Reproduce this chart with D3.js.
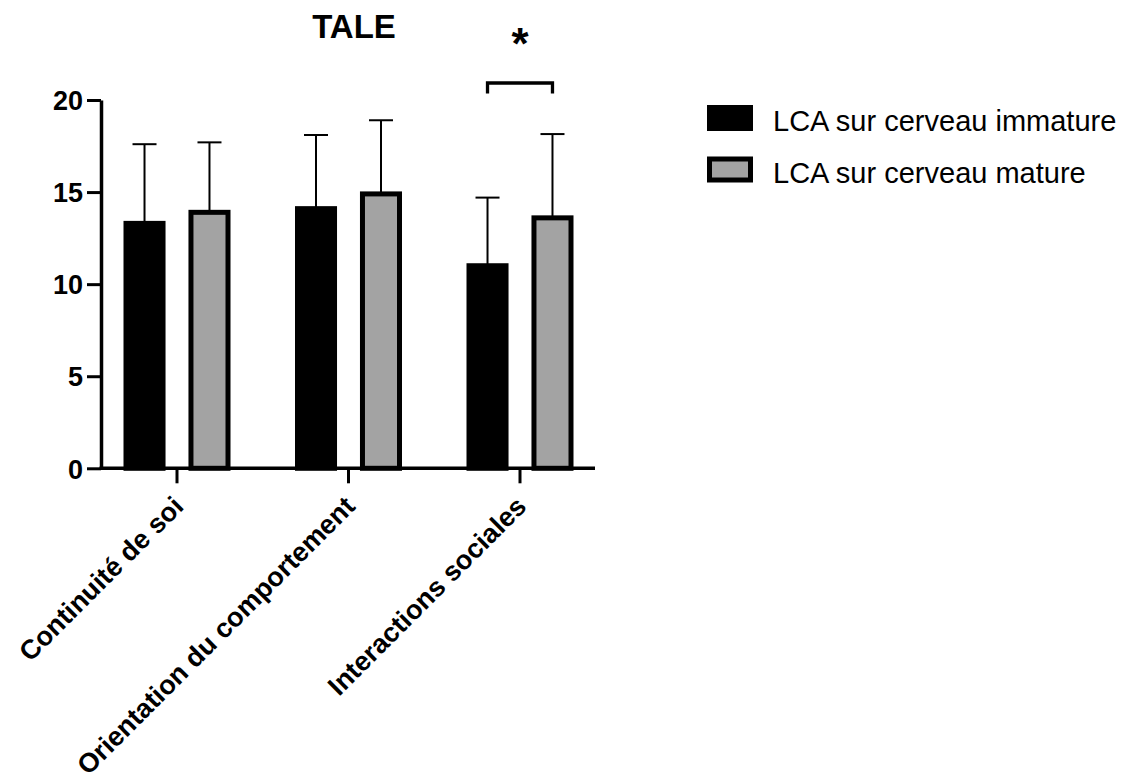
<!DOCTYPE html>
<html>
<head>
<meta charset="utf-8">
<script src="https://cdn.jsdelivr.net/npm/d3@7"></script>
<style>
  html, body { margin: 0; padding: 0; background: #fff; }
  svg { display: block; font-family: "Liberation Sans", Arial, Helvetica, sans-serif; }
</style>
</head>
<body>
<svg id="chart" width="1128" height="782"></svg>
<script>
// ---- data ----
const categories = ["Continuité de soi", "Orientation du comportement", "Interactions sociales"];
const seriesNames = ["LCA sur cerveau immature", "LCA sur cerveau mature"];
const immatureMeans = [13.3, 14.1, 11.0];
const matureMeans   = [13.9, 14.9, 13.6];
const immatureUpper = [17.6, 18.1, 14.7];   // mean + SD
const matureUpper   = [17.7, 18.9, 18.15];
const yTicks = [0, 5, 10, 15, 20];
const title = "TALE";
const significance = [{ category: "Interactions sociales", label: "*" }];

// ---- layout ----
const svg = d3.select("#chart");
const y = d3.scaleLinear().domain([0, 20]).range([468.3, 100]);
const x0 = d3.scaleBand().domain(categories).range([91.25, 605.75]).paddingInner(0).paddingOuter(0);
const x1 = d3.scaleBand().domain(seriesNames).range([-51, 51]).paddingInner(0.43);
const colors = { [seriesNames[0]]: "#000000", [seriesNames[1]]: "#a3a3a3" };

const rows = [];
categories.forEach((c, i) => {
  rows.push({ cat: c, s: seriesNames[0], v: immatureMeans[i], up: immatureUpper[i] });
  rows.push({ cat: c, s: seriesNames[1], v: matureMeans[i], up: matureUpper[i] });
});
const cx = d => x0(d.cat) + x0.bandwidth() / 2 + x1(d.s) + x1.bandwidth() / 2;

// error bars (drawn first, behind bars)
const eb = svg.append("g");
eb.selectAll("line.v").data(rows).join("line")
  .attr("x1", cx).attr("x2", cx)
  .attr("y1", d => y(d.v)).attr("y2", d => y(d.up))
  .attr("stroke", "#000").attr("stroke-width", 2);
eb.selectAll("line.c").data(rows).join("line")
  .attr("x1", d => cx(d) - 12).attr("x2", d => cx(d) + 12)
  .attr("y1", d => y(d.up)).attr("y2", d => y(d.up))
  .attr("stroke", "#000").attr("stroke-width", 2);

// bars
svg.append("g").selectAll("rect").data(rows).join("rect")
  .attr("x", d => cx(d) - x1.bandwidth() / 2)
  .attr("width", x1.bandwidth())
  .attr("y", d => y(d.v))
  .attr("height", d => y(0) - y(d.v))
  .attr("fill", d => colors[d.s])
  .attr("stroke", "#000").attr("stroke-width", 5);

// y axis
const yAxis = svg.append("g").attr("transform", "translate(101,0)")
  .call(d3.axisLeft(y).tickValues(yTicks).tickSize(14).tickSizeOuter(0).tickPadding(4));
yAxis.select(".domain").attr("stroke-width", 3.5);
yAxis.selectAll(".tick line").attr("stroke-width", 3);
yAxis.selectAll(".tick text").attr("font-size", 27).attr("font-weight", "bold")
  .attr("font-family", "'Liberation Sans', Arial, sans-serif").attr("fill", "#000").attr("dy", "0.36em");

// x axis
const xAxis = svg.append("g").attr("transform", `translate(0,${y(0)})`)
  .call(d3.axisBottom(x0).tickSize(15).tickSizeOuter(0));
xAxis.select(".domain").remove();
xAxis.selectAll(".tick line").attr("stroke-width", 3);
xAxis.selectAll(".tick text").remove();
svg.append("line").attr("x1", 99.5).attr("x2", 595).attr("y1", y(0)).attr("y2", y(0))
  .attr("stroke", "#000").attr("stroke-width", 3.5);

// rotated category labels
svg.append("g").selectAll("text").data(categories).join("text")
  .attr("transform", c => `translate(${x0(c) + x0.bandwidth() / 2 + 8},508) rotate(-45)`)
  .attr("text-anchor", "end")
  .attr("font-size", 27).attr("font-weight", "bold").attr("fill", "#000")
  .text(c => c);

// title
svg.append("text").attr("x", 354).attr("y", 37.7).attr("text-anchor", "middle")
  .attr("font-size", 33).attr("font-weight", "bold").text(title);

// significance bracket
significance.forEach(sg => {
  const a = rows.find(r => r.cat === sg.category && r.s === seriesNames[0]);
  const b = rows.find(r => r.cat === sg.category && r.s === seriesNames[1]);
  const xa = cx(a), xb = cx(b), yb = 83;
  svg.append("path")
    .attr("d", `M${xa},${yb + 10.5}V${yb}H${xb}V${yb + 10.5}`)
    .attr("fill", "none").attr("stroke", "#000").attr("stroke-width", 3.3);
  svg.append("text").attr("x", (xa + xb) / 2).attr("y", 59).attr("text-anchor", "middle")
    .attr("font-size", 44).attr("font-weight", "bold").text(sg.label);
});

// legend
const leg = svg.append("g");
seriesNames.forEach((s, i) => {
  const yy = 105 + i * 51.5;
  leg.append("rect").attr("x", 709.5).attr("y", yy + 2.5).attr("width", 41).attr("height", 21)
    .attr("fill", colors[s]).attr("stroke", "#000").attr("stroke-width", 5);
  leg.append("text").attr("x", 773).attr("y", yy + 26).attr("font-size", 29).attr("fill", "#000").text(s);
});
</script>
</body>
</html>
